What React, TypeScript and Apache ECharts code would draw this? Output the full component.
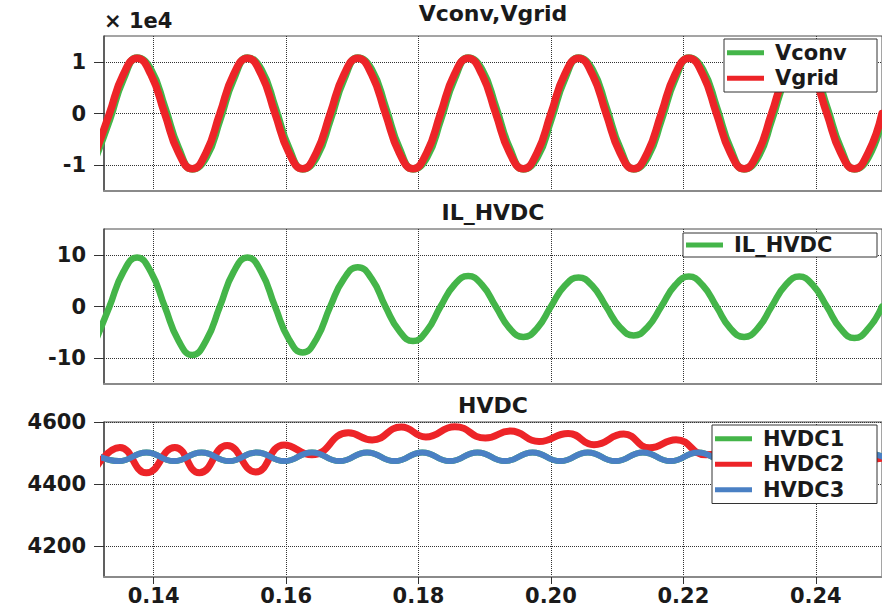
import { useEffect, useRef } from 'react';
import * as echarts from 'echarts';

const FONT = '"DejaVu Sans", Arial, sans-serif';
const GREEN = '#44b549';
const RED = '#ed2428';
const BLUE = '#4a80c4';

// Time axis (s)
const X_MIN = 0.1325;
const X_MAX = 0.25;
const X_TICKS = [0.14, 0.16, 0.18, 0.2, 0.22, 0.24];

// Panel 1 and 2 sample times (s)
const T = [
  0.13125, 0.13333, 0.13542, 0.1375, 0.13958, 0.14167, 0.14375, 0.14583,
  0.14792, 0.15, 0.15208, 0.15417, 0.15625, 0.15833, 0.16042, 0.1625,
  0.16458, 0.16667, 0.16875, 0.17083, 0.17292, 0.175, 0.17708, 0.17917,
  0.18125, 0.18333, 0.18542, 0.1875, 0.18958, 0.19167, 0.19375, 0.19583,
  0.19792, 0.2, 0.20208, 0.20417, 0.20625, 0.20833, 0.21042, 0.2125,
  0.21458, 0.21667, 0.21875, 0.22083, 0.22292, 0.225, 0.22708, 0.22917,
  0.23125, 0.23333, 0.23542, 0.2375, 0.23958, 0.24167, 0.24375, 0.24583,
  0.24792, 0.25,
];

// Panel 1: Vconv, Vgrid (V)
const VCONV = [
  -8450, -1220, 6730, 10730, 8450, 1220, -6730, -10730,
  -8450, -1220, 6730, 10730, 8450, 1220, -6730, -10730,
  -8450, -1220, 6730, 10730, 8450, 1220, -6730, -10730,
  -8450, -1220, 6730, 10730, 8450, 1220, -6730, -10730,
  -8450, -1220, 6730, 10730, 8450, 1220, -6730, -10730,
  -8450, -1220, 6730, 10730, 8450, 1220, -6730, -10730,
  -8450, -1220, 6730, 10730, 8450, 1220, -6730, -10730,
  -8450, -1220,
];
const VGRID = [
  -7570, 0, 7570, 10700, 7570, 0, -7570, -10700,
  -7570, 0, 7570, 10700, 7570, 0, -7570, -10700,
  -7570, 0, 7570, 10700, 7570, 0, -7570, -10700,
  -7570, 0, 7570, 10700, 7570, 0, -7570, -10700,
  -7570, 0, 7570, 10700, 7570, 0, -7570, -10700,
  -7570, 0, 7570, 10700, 7570, 0, -7570, -10700,
  -7570, 0, 7570, 10700, 7570, 0, -7570, -10700,
  -7570, 0,
];
const V_TICKS = [-10000, 0, 10000];

// Panel 2: IL_HVDC
const IL_HVDC = [
  -6.6,
  0, 6.7, 9.5, 6.7, 0, -6.6, -9.4, -6.6,
  0, 6.7, 9.5, 6.7, 0, -6.3, -8.9, -6.3,
  0, 5.4, 7.6, 5.4, 0, -4.7, -6.7, -4.7,
  0, 4.2, 5.9, 4.2, 0, -4.2, -5.9, -4.2,
  0, 4.0, 5.6, 4.0, 0, -4.0, -5.6, -4.0,
  0, 4.1, 5.8, 4.1, 0, -4.2, -5.9, -4.2,
  0, 4.1, 5.8, 4.1, 0, -4.3, -6.1, -4.3,
  0,
];
const IL_TICKS = [-10, 0, 10];

// Panel 3: HVDC voltages
const T_HVDC13 = [
  0.13057, 0.13473, 0.1389, 0.14307, 0.14723, 0.1514, 0.15557, 0.15973,
  0.1639, 0.16807, 0.17223, 0.1764, 0.18057, 0.18473, 0.1889, 0.19307,
  0.19723, 0.2014, 0.20557, 0.20973, 0.2139, 0.21807, 0.22223, 0.2264,
  0.23057, 0.23473, 0.2389, 0.24307, 0.24723, 0.2514,
];
const HVDC1 = [
  4502, 4474, 4502, 4474, 4502, 4474, 4502, 4474, 4502, 4474,
  4502, 4474, 4502, 4474, 4502, 4474, 4502, 4474, 4502, 4474,
  4502, 4474, 4502, 4474, 4502, 4474, 4502, 4474, 4502, 4474,
];
const HVDC3 = [
  4502, 4474, 4502, 4474, 4502, 4474, 4502, 4474, 4502, 4474,
  4502, 4474, 4502, 4474, 4502, 4474, 4502, 4474, 4502, 4474,
  4502, 4474, 4502, 4474, 4502, 4474, 4502, 4474, 4502, 4474,
];
const T_HVDC2 = [
  0.1308, 0.1349, 0.1389, 0.1432, 0.1469, 0.1511, 0.1554, 0.1597, 0.1639,
  0.1694, 0.173, 0.1774, 0.1811, 0.1855, 0.1901, 0.1939, 0.1982, 0.2026,
  0.2065, 0.211, 0.2149, 0.2189, 0.2234, 0.2272, 0.2315, 0.2355, 0.2398,
  0.244, 0.248, 0.252,
];
const HVDC2 = [
  4436, 4518, 4436, 4518, 4436, 4524, 4439, 4526, 4494,
  4565, 4542, 4584, 4552, 4585, 4548, 4571, 4537, 4563,
  4527, 4561, 4517, 4543, 4494, 4510, 4480, 4500, 4478,
  4498, 4480, 4492,
];
const HVDC_TICKS = [4200, 4400, 4600];

const TITLES = ['Vconv,Vgrid', 'IL_HVDC', 'HVDC'];

const pairs = (xs: number[], ys: number[]) => xs.map((x, i) => [x, ys[i]]);

const GRID_TOPS = [36, 229, 422];
const GRID_H = 155;

function buildOption(): echarts.EChartsOption {
  const grid = GRID_TOPS.map((top) => ({
    left: 104,
    top,
    right: -5,
    height: GRID_H,
    show: true,
    borderColor: '#4a4a4a',
    borderWidth: 1,
    backgroundColor: 'transparent',
  }));

  const splitLine = {
    show: true,
    lineStyle: { type: 'dotted' as const, color: '#333', width: 1 },
  };

  const xAxis = [0, 1, 2].map((i) => ({
    type: 'value' as const,
    gridIndex: i,
    min: X_MIN,
    max: X_MAX,
    axisLine: { show: true, onZero: false, lineStyle: { color: '#8a8a8a', width: 2 } },
    axisTick: {
      show: i === 2,
      customValues: X_TICKS,
      length: 7,
      inside: false,
      lineStyle: { color: '#333', width: 1 },
    },
    axisLabel: {
      show: i === 2,
      customValues: X_TICKS,
      formatter: (v: number) => v.toFixed(2),
      margin: 8,
      fontFamily: FONT,
      fontSize: 21,
      fontWeight: 'bold' as const,
      color: '#1a1a1a',
    },
    splitLine,
  }));

  const yCommon = {
    type: 'value' as const,
    axisLine: { show: true, onZero: false, lineStyle: { color: '#4a4a4a', width: 1.5 } },
    axisTick: { show: true, length: 10, inside: false, lineStyle: { color: '#333', width: 1 } },
    splitLine,
  };
  const yLabel = {
    margin: 18,
    fontFamily: FONT,
    fontSize: 21,
    fontWeight: 'bold' as const,
    color: '#1a1a1a',
  };

  const yAxis = [
    {
      ...yCommon,
      gridIndex: 0,
      min: -15000,
      max: 15000,
      name: '× 1e4',
      nameLocation: 'end' as const,
      nameGap: 5,
      nameTextStyle: {
        align: 'left' as const,
        verticalAlign: 'bottom' as const,
        fontFamily: FONT,
        fontSize: 21,
        fontWeight: 'bold' as const,
        color: '#1a1a1a',
      },
      axisTick: { ...yCommon.axisTick, customValues: V_TICKS },
      axisLabel: { ...yLabel, customValues: V_TICKS, formatter: (v: number) => String(Math.round(v / 1e4)) },
    },
    {
      ...yCommon,
      gridIndex: 1,
      min: -15,
      max: 15,
      axisTick: { ...yCommon.axisTick, customValues: IL_TICKS },
      axisLabel: { ...yLabel, customValues: IL_TICKS, formatter: (v: number) => String(v) },
    },
    {
      ...yCommon,
      gridIndex: 2,
      min: 4100,
      max: 4600,
      axisTick: { ...yCommon.axisTick, customValues: HVDC_TICKS },
      axisLabel: { ...yLabel, customValues: HVDC_TICKS, formatter: (v: number) => String(v) },
    },
  ];

  const lineSeries = (name: string, data: number[][], color: string, idx: number, width: number) => ({
    type: 'line' as const,
    name,
    data,
    xAxisIndex: idx,
    yAxisIndex: idx,
    smooth: 0.5,
    showSymbol: false,
    symbol: 'none',
    color,
    lineStyle: { color, width, join: 'round' as const, cap: 'round' as const },
    emphasis: { disabled: true },
  });

  const series = [
    lineSeries('Vconv', pairs(T, VCONV), GREEN, 0, 7.5),
    lineSeries('Vgrid', pairs(T, VGRID), RED, 0, 7.5),
    lineSeries('IL_HVDC', pairs(T, IL_HVDC), GREEN, 1, 6.5),
    lineSeries('HVDC1', pairs(T_HVDC13, HVDC1), GREEN, 2, 6),
    lineSeries('HVDC2', pairs(T_HVDC2, HVDC2), RED, 2, 7),
    lineSeries('HVDC3', pairs(T_HVDC13, HVDC3), BLUE, 2, 6),
  ];

  const legendBase = {
    orient: 'vertical' as const,
    right: 5,
    itemWidth: 37,
    itemHeight: 5,
    itemGap: 0,
    icon: 'rect',
    backgroundColor: '#fff',
    borderColor: '#333',
    borderWidth: 1,
    borderRadius: 0,
    selectedMode: false as const,
  };
  const legendText = (width: number, lineHeight: number) => ({
    fontFamily: FONT,
    fontSize: 21,
    fontWeight: 'bold' as const,
    color: '#1a1a1a',
    width,
    lineHeight,
    padding: [0, 0, 0, 6],
  });

  const legend = [
    { ...legendBase, top: 39, padding: [1, 4, 1, 3], data: ['Vconv', 'Vgrid'], textStyle: legendText(98, 25.5) },
    { ...legendBase, top: 233, padding: [0, 4, 0, 3], data: ['IL_HVDC'], textStyle: legendText(139, 24) },
    { ...legendBase, top: 425, padding: [1, 4, 1, 3], data: ['HVDC1', 'HVDC2', 'HVDC3'], textStyle: legendText(110, 25.5) },
  ];

  const titleTops = [2.5, 201, 394];
  const title = TITLES.map((text, i) => ({
    text,
    left: 493,
    top: titleTops[i],
    textAlign: 'center' as const,
    padding: 0,
    textStyle: { fontFamily: FONT, fontSize: 22, fontWeight: 'bold' as const, color: '#1a1a1a' },
  }));

  return {
    animation: false,
    backgroundColor: '#fff',
    title,
    legend,
    grid,
    xAxis,
    yAxis,
    series,
  } as echarts.EChartsOption;
}

export default function App() {
  const ref = useRef<HTMLDivElement>(null);
  useEffect(() => {
    if (!ref.current) return;
    const chart = echarts.init(ref.current, null, { renderer: 'svg' });
    chart.setOption(buildOption());
    return () => chart.dispose();
  }, []);
  return (
    <div
      ref={ref}
      style={{ position: 'fixed', left: 0, top: 0, width: 882, height: 612 }}
    />
  );
}
